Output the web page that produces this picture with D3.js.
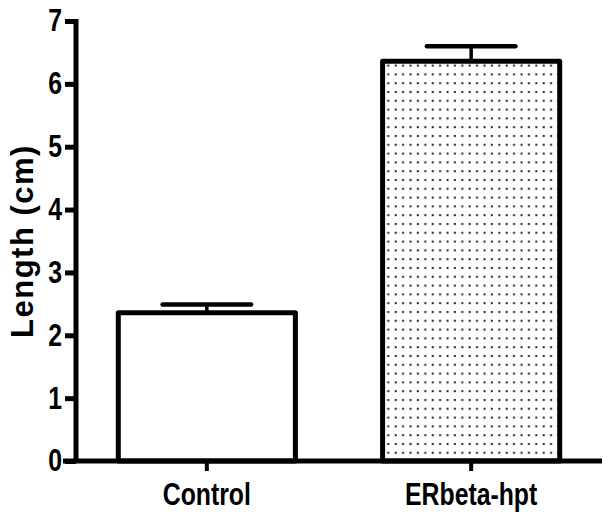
<!DOCTYPE html>
<html>
<head>
<meta charset="utf-8">
<script src="https://cdn.jsdelivr.net/npm/d3@7"></script>
<style>
  body { margin: 0; background: #fff; }
  svg text { font-family: "Liberation Sans", Arial, sans-serif; font-weight: bold; }
</style>
</head>
<body>
<svg id="chart" width="614" height="522"></svg>
<script>
const groups = ['Control', 'ERbeta-hpt'];
const means = [2.36, 6.36];
const errs = [0.13, 0.24];   // SEM
const yTicks = [0, 1, 2, 3, 4, 5, 6, 7];

const svg = d3.select('#chart');
const m = {left: 76, right: 602, top: 21, bottom: 461};
const narrow = 0.8; // squeeze to look like a condensed face

const x = d3.scaleBand()
    .domain(groups)
    .range([m.left, m.right])
    .paddingInner(0.33)
    .paddingOuter(0.16);

const y = d3.scaleLinear()
    .domain([0, 7])
    .range([m.bottom, m.top]);

// dotted fill for the second bar
const defs = svg.append('defs');
const pat = defs.append('pattern')
    .attr('id', 'dots')
    .attr('patternUnits', 'userSpaceOnUse')
    .attr('width', 7.4)
    .attr('height', 8.8);
pat.append('rect').attr('width', 7.4).attr('height', 8.8).attr('fill', '#fff');
pat.append('rect').attr('x', 2.5).attr('y', 3).attr('width', 2).attr('height', 2).attr('fill', '#222');

const fills = ['#fff', 'url(#dots)'];

// bars
svg.selectAll('rect.bar')
    .data(groups)
    .join('rect')
    .attr('class', 'bar')
    .attr('x', d => x(d))
    .attr('y', (d, i) => y(means[i]))
    .attr('width', x.bandwidth())
    .attr('height', (d, i) => y(0) - y(means[i]))
    .style('fill', (d, i) => fills[i])
    .style('stroke', '#000')
    .style('stroke-width', 5)
    .style('stroke-linejoin', 'round');

// error bars (upper only)
const eb = svg.selectAll('g.err')
    .data(groups)
    .join('g')
    .attr('class', 'err');
eb.append('line')
    .attr('x1', d => x(d) + x.bandwidth() / 2)
    .attr('x2', d => x(d) + x.bandwidth() / 2)
    .attr('y1', (d, i) => y(means[i]))
    .attr('y2', (d, i) => y(means[i] + errs[i]))
    .style('stroke', '#000').style('stroke-width', 3.5);
eb.append('line')
    .attr('x1', d => x(d) + x.bandwidth() / 4)
    .attr('x2', d => x(d) + x.bandwidth() * 3 / 4)
    .attr('y1', (d, i) => y(means[i] + errs[i]))
    .attr('y2', (d, i) => y(means[i] + errs[i]))
    .style('stroke', '#000').style('stroke-width', 4.5)
    .style('stroke-linecap', 'round');

// y axis
const yAxis = svg.append('g')
    .attr('transform', `translate(${m.left},0)`)
    .call(d3.axisLeft(y).tickValues(yTicks).tickFormat(d3.format('d'))
        .tickSize(11).tickSizeOuter(0).tickPadding(3));
yAxis.select('.domain').style('stroke-width', 5).attr('d', `M0,${m.top - 2}V${m.bottom + 2}`);
yAxis.selectAll('.tick line').style('stroke-width', 5);
yAxis.selectAll('.tick text')
    .style('font-size', '31px').attr('fill', '#000')
    .attr('x', -14 / narrow)
    .attr('transform', `scale(${narrow},1)`);

// x axis
const xAxis = svg.append('g')
    .attr('transform', `translate(0,${m.bottom})`)
    .call(d3.axisBottom(x).tickSize(10).tickSizeOuter(0).tickPadding(12));
xAxis.select('.domain').style('stroke-width', 5).attr('d', `M${m.left - 13},0H${m.right}`);
xAxis.selectAll('.tick line').style('stroke-width', 4);
xAxis.selectAll('.tick text')
    .style('font-size', '31px').attr('fill', '#000')
    .attr('transform', `scale(${narrow},1)`);

// y title
svg.append('text')
    .attr('transform', `translate(33,${(m.top + m.bottom) / 2}) rotate(-90)`)
    .attr('text-anchor', 'middle')
    .style('font-size', '31px')
    .style('letter-spacing', '1.5px')
    .text('Length (cm)');
</script>
</body>
</html>
